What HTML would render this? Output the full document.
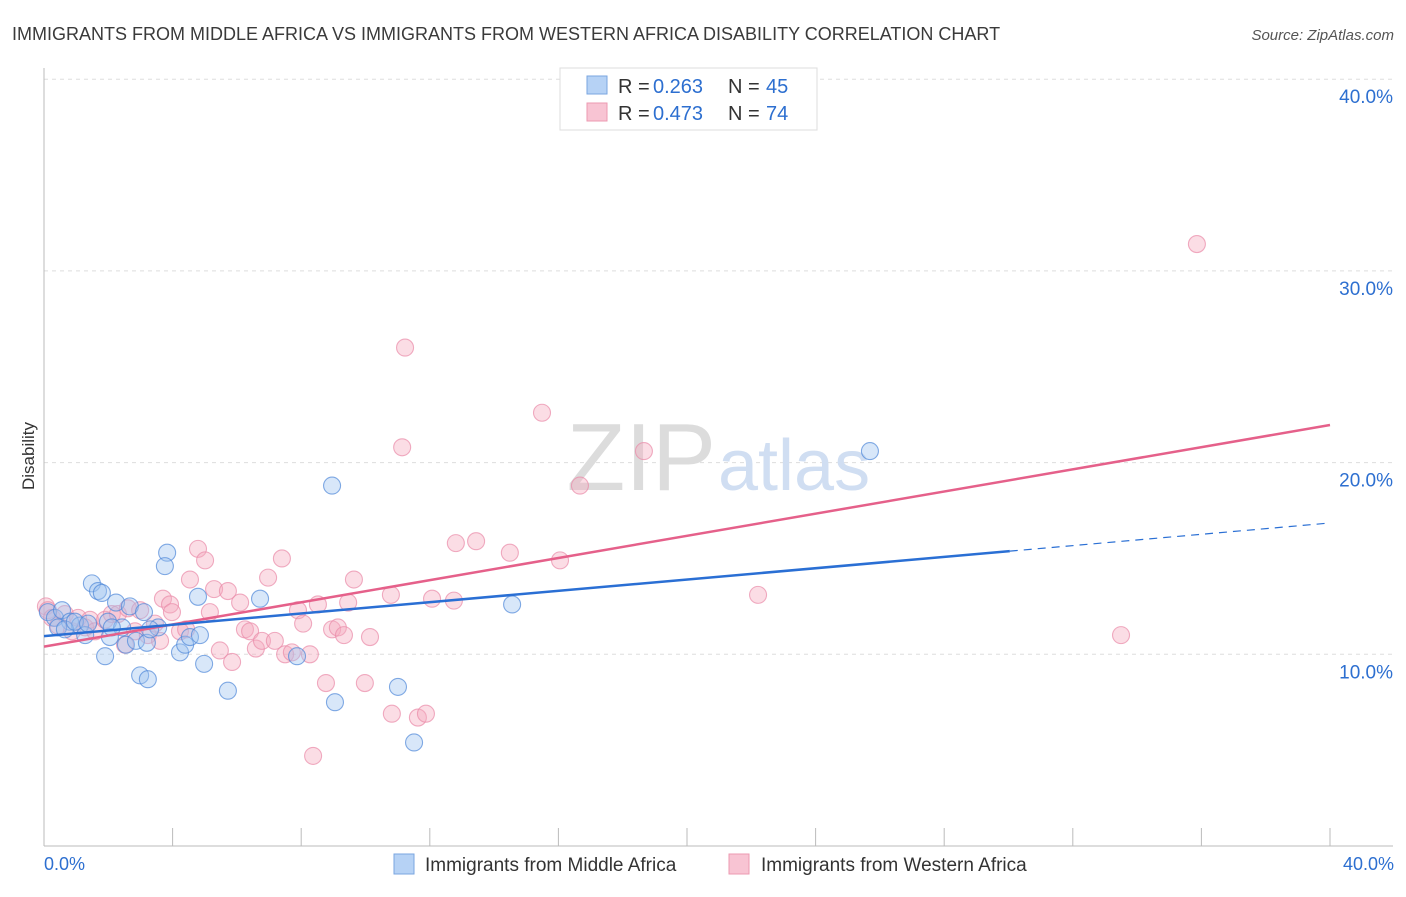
<!DOCTYPE html>
<html><head><meta charset="utf-8"><style>
body{margin:0;background:#fff;font-family:"Liberation Sans",sans-serif;}
svg text{font-family:"Liberation Sans",sans-serif;}
</style></head><body>
<svg id="chart" width="1406" height="892">
<text x="12" y="40" font-size="18" fill="#3a3a3a">IMMIGRANTS FROM MIDDLE AFRICA VS IMMIGRANTS FROM WESTERN AFRICA DISABILITY CORRELATION CHART</text>
<text x="1394" y="40" font-size="15" fill="#555" text-anchor="end" font-style="italic">Source: ZipAtlas.com</text>
<text x="34" y="456" font-size="17" fill="#333" text-anchor="middle" transform="rotate(-90 34 456)">Disability</text>
<g id="grid"></g>
<text x="716" y="490" font-size="96" fill="#dcdcdc" text-anchor="end" font-family="Liberation Serif">ZIP</text>
<text x="718" y="490" font-size="72" fill="#d0def2">atlas</text>
<g id="marks"></g>
<g>
<rect x="560" y="68" width="257" height="62" fill="#fff" stroke="#ddd"/>
<rect x="587" y="76" width="20" height="18" fill="#b6d2f5" stroke="#7aa6e0"/>
<rect x="587" y="103" width="20" height="18" fill="#f8c4d3" stroke="#ec9ab2"/>
<text x="618" y="93" font-size="20" fill="#333">R =</text>
<text x="653" y="93" font-size="20" fill="#2d6fd0">0.263</text>
<text x="728" y="93" font-size="20" fill="#333">N =</text>
<text x="766" y="93" font-size="20" fill="#2d6fd0">45</text>
<text x="618" y="120" font-size="20" fill="#333">R =</text>
<text x="653" y="120" font-size="20" fill="#2d6fd0">0.473</text>
<text x="728" y="120" font-size="20" fill="#333">N =</text>
<text x="766" y="120" font-size="20" fill="#2d6fd0">74</text>
</g>
<g>
<rect x="394" y="854" width="20" height="20" fill="#b6d2f5" stroke="#7aa6e0"/>
<text x="425" y="871" font-size="19" fill="#333">Immigrants from Middle Africa</text>
<rect x="729" y="854" width="20" height="20" fill="#f8c4d3" stroke="#ec9ab2"/>
<text x="761" y="871" font-size="19" fill="#333">Immigrants from Western Africa</text>
</g>
<text x="44" y="870" font-size="18" fill="#2d6fd0">0.0%</text>
<text x="1394" y="870" font-size="18" fill="#2d6fd0" text-anchor="end">40.0%</text>
</svg>
<script>
const blueX=[0.12,0.34,0.56,0.81,1.12,1.28,1.49,1.68,1.80,1.90,1.99,2.05,2.24,2.43,2.55,2.67,2.86,2.99,3.11,3.23,3.20,3.55,3.83,3.76,4.23,4.39,4.54,4.79,4.85,4.98,5.72,6.72,7.87,8.96,9.05,11.01,11.51,14.56,25.69,0.44,0.65,0.96,1.37,2.11,3.30];
const blueY=[12.2,11.9,12.3,11.7,11.5,11.0,13.7,13.3,13.2,9.9,11.7,10.9,12.7,11.4,10.5,12.5,10.7,8.9,12.2,8.7,10.6,11.4,15.3,14.6,10.1,10.5,10.9,13.0,11.0,9.5,8.1,12.9,9.9,18.8,7.5,8.3,5.4,12.6,20.6,11.4,11.3,11.7,11.6,11.4,11.3];
const pinkX=[0.06,0.12,0.25,0.44,0.65,0.87,1.06,1.28,1.43,1.59,1.90,2.11,2.30,2.52,2.61,2.83,2.99,3.23,3.45,3.61,3.70,3.92,3.98,4.23,4.42,4.54,4.79,5.01,5.16,5.29,5.47,5.72,5.85,6.10,6.25,6.41,6.59,6.78,6.97,7.18,7.40,7.50,7.71,7.90,8.06,8.27,8.52,8.77,8.96,9.14,9.33,9.46,9.64,9.98,10.14,10.79,10.82,11.14,11.23,11.63,11.88,12.07,12.75,12.81,13.44,14.49,15.49,16.05,16.67,18.66,22.21,33.50,35.86,8.37];
const pinkY=[12.5,12.3,11.9,11.5,12.1,11.2,11.9,11.4,11.8,11.2,11.8,12.1,12.1,10.5,12.4,11.2,12.3,11.0,11.6,10.7,12.9,12.6,12.2,11.2,11.3,13.9,15.5,14.9,12.2,13.4,10.2,13.3,9.6,12.7,11.3,11.2,10.3,10.7,14.0,10.7,15.0,10.0,10.1,12.3,11.6,10.0,12.6,8.5,11.3,11.4,11.0,12.7,13.9,8.5,10.9,13.1,6.9,20.8,26.0,6.7,6.9,12.9,12.8,15.8,15.9,15.3,22.6,14.9,18.8,20.6,13.1,11.0,31.4,4.7];
const yTicks=[10,20,30,40];
const yTickLabels=["10.0%","20.0%","30.0%","40.0%"];
const xTicks=[0,4,8,12,16,20,24,28,32,36,40];
const blueLine=[10.95,16.85];
const blueSolidEnd=30.04;
const pinkLine=[10.4,21.96];
const NS="http://www.w3.org/2000/svg";
const sx=v=>44+v/40*1286;
const sy=v=>846-v*19.17;
function mk(tag,attrs,parent){const e=document.createElementNS(NS,tag);for(const k in attrs)e.setAttribute(k,attrs[k]);parent.appendChild(e);return e;}
const grid=document.getElementById('grid'),marks=document.getElementById('marks');
yTicks.forEach((t,i)=>{
 const l=mk('line',{x1:44,x2:1393,y1:sy(t),y2:sy(t),stroke:'#ddd','stroke-dasharray':'4,4'},grid);
 
 
 const tx=mk('text',{x:1393,y:sy(t)+24,'font-size':19,fill:'#2d6fd0','text-anchor':'end'},grid);
 tx.textContent=yTickLabels[i];
 
 
});
const ax=mk('line',{x1:44,x2:44,y1:68,y2:846,stroke:'#bbb'},grid);


const bx=mk('line',{x1:44,x2:1393,y1:846,y2:846,stroke:'#bbb'},grid);


xTicks.forEach(t=>{
 const l=mk('line',{x1:sx(t),x2:sx(t),y1:828,y2:846,stroke:'#bbb'},grid);
 
 
});
function pts(X,Y,fill,stroke,name){X.forEach((x,i)=>{
 const c=mk('circle',{cx:sx(x),cy:sy(Y[i]),r:8.5,fill:fill,'fill-opacity':0.4,stroke:stroke,'stroke-opacity':0.7,'stroke-width':1.1},marks);
 
 
});}
pts(pinkX,pinkY,'#f4a9bf','#e98aa8','pink-point');
pts(blueX,blueY,'#9ec3f0','#4f87d8','blue-point');
const f=(L,x)=>L[0]+(L[1]-L[0])*x/40;
const pl=mk('line',{x1:sx(0),y1:sy(f(pinkLine,0)),x2:sx(40),y2:sy(f(pinkLine,40)),stroke:'#e5608a','stroke-width':2.5},marks);


const bl=mk('line',{x1:sx(0),y1:sy(f(blueLine,0)),x2:sx(blueSolidEnd),y2:sy(f(blueLine,blueSolidEnd)),stroke:'#2a6fd4','stroke-width':2.5},marks);


const bd=mk('line',{x1:sx(blueSolidEnd),y1:sy(f(blueLine,blueSolidEnd)),x2:sx(40),y2:sy(f(blueLine,40)),stroke:'#2a6fd4','stroke-width':1.2,'stroke-dasharray':'8,6'},marks);


</script>
</body></html>
